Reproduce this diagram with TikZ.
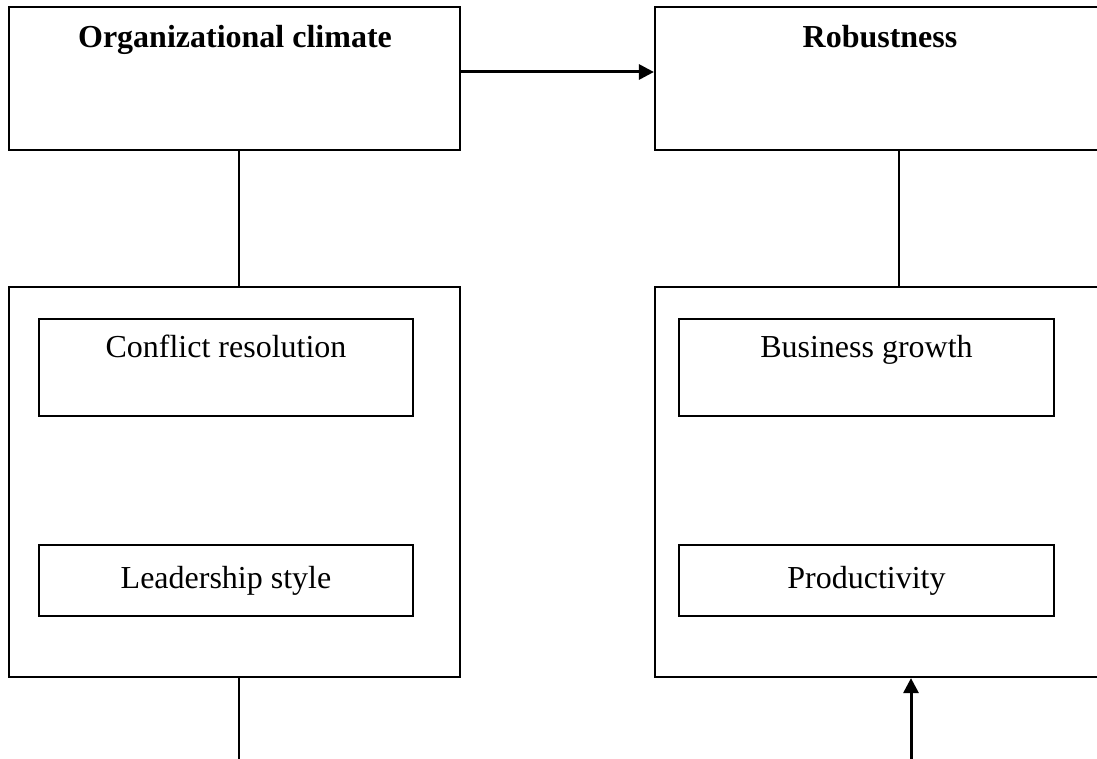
\documentclass[tikz,border=0pt]{standalone}
\usepackage{fontspec}
\setmainfont{Liberation Serif}
\usetikzlibrary{arrows.meta}

\tikzset{
    box/.style={draw, line width=2.2pt, inner sep=0pt},
    txt/.style={font=\fontsize{32}{38}\selectfont, inner sep=0pt, anchor=base},
    ttl/.style={txt, font=\fontsize{32}{38}\selectfont\bfseries},
    link/.style={line width=2.2pt},
    arr/.style={line width=3pt, -{Triangle[length=15pt,width=15pt]}}
}

\begin{document}
\begin{tikzpicture}[x=1pt, y=-1pt]
    \useasboundingbox (0,0) rectangle (1097,759);
    \clip (0,0) rectangle (1097,759);

    % top boxes
    \node[box, minimum width=451pt, minimum height=143pt] (clim) at (234.5,78.5){};
    \node[ttl] (climt) at (235,48){Organizational climate};
    \node[box, minimum width=451pt, minimum height=143pt] (rob) at (880.5,78.5){};
    \node[ttl] (robt) at (880,48){Robustness};

    % big boxes
    \node[box, minimum width=451pt, minimum height=390pt] (climbig) at (234.5,482){};
    \node[box, minimum width=451pt, minimum height=390pt] (robbig) at (880.5,482){};

    % inner boxes, left
    \node[box, minimum width=374pt, minimum height=97pt] (conf) at (226,367.5){};
    \node[txt] (conft) at (226,357){Conflict resolution};
    \node[box, minimum width=374pt, minimum height=71pt] (lead) at (226,580.5){};
    \node[txt] (leadt) at (226,588){Leadership style};

    % inner boxes, right
    \node[box, minimum width=375pt, minimum height=97pt] (busi) at (866.5,367.5){};
    \node[txt] (busit) at (866.5,357){Business growth};
    \node[box, minimum width=375pt, minimum height=71pt] (prod) at (866.5,580.5){};
    \node[txt] (prodt) at (866.5,588){Productivity};

    % connectors
    \draw[arr] ([yshift=6.5pt]clim.east) -- ([yshift=6.5pt]rob.west);
    \draw[link] ([xshift=4.5pt]clim.south) -- ([xshift=4.5pt]climbig.north);
    \draw[link] ([xshift=18.5pt]rob.south) -- ([xshift=18.5pt]robbig.north);

    \coordinate (climend) at (239,760);
    \coordinate (robstart) at (911,760);
    \draw[link] ([xshift=4.5pt]climbig.south) -- (climend);
    \draw[arr] (robstart) -- ([xshift=30.5pt]robbig.south);
\end{tikzpicture}
\end{document}
